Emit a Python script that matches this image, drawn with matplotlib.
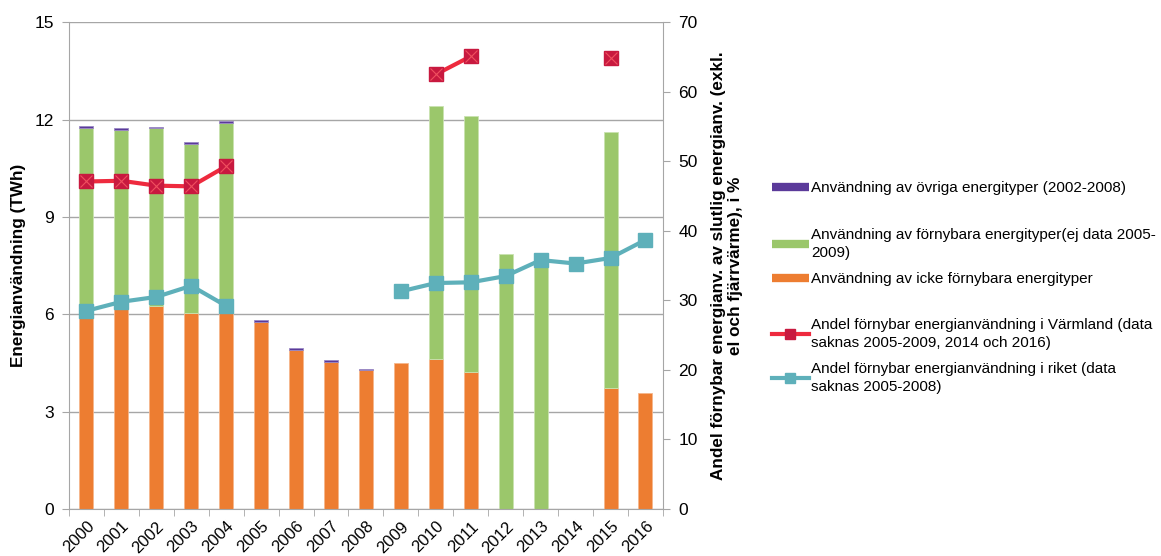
import numpy as np
import matplotlib
matplotlib.use("Agg")
import matplotlib.pyplot as plt
from matplotlib.lines import Line2D

plt.rcParams['font.family'] = ['Liberation Sans', 'DejaVu Sans']

years = ['2000', '2001', '2002', '2003', '2004', '2005', '2006', '2007', '2008',
         '2009', '2010', '2011', '2012', '2013', '2014', '2015', '2016']
nan = np.nan
# TWh
icke_fornybar = [5.90, 6.15, 6.26, 6.03, 6.03, 5.77, 4.90, 4.54, 4.27,
                 4.49, 4.63, 4.21, 0.0, 0.0, 0.0, 3.73, 3.57]
fornybar = [5.83, 5.54, 5.47, 5.23, 5.87, 0.0, 0.0, 0.0, 0.0,
            0.0, 7.78, 7.91, 7.87, 7.60, 0.0, 7.88, 0.0]
ovriga = [0.06, 0.05, 0.05, 0.05, 0.06, 0.05, 0.05, 0.05, 0.05,
          0.0, 0.0, 0.0, 0.0, 0.0, 0.0, 0.0, 0.0]
# %
varmland = [47.1, 47.2, 46.5, 46.4, 49.3, nan, nan, nan, nan,
            nan, 62.5, 65.1, nan, nan, nan, 64.8, nan]
riket = [28.5, 29.8, 30.5, 32.1, 29.2, nan, nan, nan, nan,
         31.3, 32.5, 32.6, 33.5, 35.8, 35.3, 36.1, 38.7]

lbl_ovriga = 'Användning av övriga energityper (2002-2008)'
lbl_fornybar = 'Användning av förnybara energityper(ej data 2005-\n2009)'
lbl_icke = 'Användning av icke förnybara energityper'
lbl_varm = 'Andel förnybar energianvändning i Värmland (data\nsaknas 2005-2009, 2014 och 2016)'
lbl_riket = 'Andel förnybar energianvändning i riket (data\nsaknas 2005-2008)'

c_orange = '#ED7D31'
c_green = '#9BC76B'
c_purple = '#5B3A9A'
c_red = '#EE2A3E'
c_redm = '#C8193F'
c_teal = '#5EB0BA'
c_grid = '#A6A6A6'

fig = plt.figure(figsize=(11.61, 5.56), dpi=100)
ax = fig.add_axes([0.0594, 0.0845, 0.5116, 0.8755])
x = np.arange(len(years))
w = 0.4
icke = np.array(icke_fornybar)
forn = np.array(fornybar)
ovr = np.array(ovriga)
m1, m2, m3 = icke > 0, forn > 0, ovr > 0
ax.bar(x[m1], icke[m1], w, color=c_orange, edgecolor='#F6B68C', linewidth=0.6, zorder=2)
ax.bar(x[m2], forn[m2], w, bottom=icke[m2], color=c_green, edgecolor='#C9E2B0', linewidth=0.6, zorder=2)
ax.bar(x[m3], ovr[m3], w, bottom=(icke + forn)[m3], color=c_purple, edgecolor='#9A88C4', linewidth=0.6, zorder=2)

ax.set_xlim(-0.5, len(years) - 0.5)
ax.set_ylim(0, 15)
ax.set_yticks([0, 3, 6, 9, 12, 15])
ax.grid(axis='y', color=c_grid, linewidth=1.0, zorder=0)
ax.set_axisbelow(True)
ax.set_xticks(x)
ax.set_xticklabels(years, rotation=45, ha='right', rotation_mode='anchor', fontsize=12)
ax.set_xticks(np.arange(-0.5, len(years), 1), minor=True)
ax.tick_params(axis='x', which='major', length=0, pad=7)
ax.tick_params(axis='x', which='minor', length=5, color=c_grid, direction='out')
ax.tick_params(axis='y', labelsize=12.5, length=5, color=c_grid, pad=6)
for s in ['top', 'right']:
    ax.spines[s].set_visible(False)
for s in ['left', 'bottom']:
    ax.spines[s].set_color(c_grid)
ax.set_ylabel('Energianvändning (TWh)', fontsize=12.3, fontweight='bold', labelpad=6)

ax2 = ax.twinx()
ax2.set_ylim(0, 70)
ax2.set_yticks(np.arange(0, 71, 10))
ax2.plot(x, varmland, color=c_red, lw=3, marker='s', ms=10, mfc=c_redm, mec=c_redm, zorder=3)
ax2.plot(x, varmland, lw=0, marker='x', ms=8, mec='#F0505F', mew=0.8, zorder=4)
ax2.plot(x, riket, color=c_teal, lw=3, marker='s', ms=10, mfc=c_teal, mec=c_teal, zorder=3)
for s in ['top', 'left', 'bottom']:
    ax2.spines[s].set_visible(False)
ax2.spines['right'].set_color(c_grid)
ax2.tick_params(axis='y', labelsize=12.5, length=5, color=c_grid, pad=6)
yl = ax2.set_ylabel('Andel förnybar energianv. av slutlig energianv. (exkl.\nel och fjärrvärme), i %',
                    fontsize=12.3, fontweight='bold', labelpad=10)
yl.set_linespacing(1.15)

handles = [
    Line2D([], [], color=c_purple, lw=6, solid_capstyle='butt'),
    Line2D([], [], color=c_green, lw=6, solid_capstyle='butt'),
    Line2D([], [], color=c_orange, lw=6, solid_capstyle='butt'),
    Line2D([], [], color=c_red, lw=3, marker='s', ms=7, mfc=c_redm, mec=c_redm),
    Line2D([], [], color=c_teal, lw=3, marker='s', ms=7, mfc=c_teal, mec=c_teal),
]
labels = [lbl_ovriga, lbl_fornybar, lbl_icke, lbl_varm, lbl_riket]
centers_px = [188, 244, 279, 334, 378]
for h, l, cy in zip(handles, labels, centers_px):
    leg = fig.legend([h], [l], loc='center left', bbox_to_anchor=(772 / 1161, 1 - cy / 556),
                     frameon=False, fontsize=11, handlelength=2.4, handletextpad=0.15,
                     borderpad=0, borderaxespad=0)
    for t in leg.get_texts():
        t.set_linespacing(1.35)

fig.savefig('out.png', dpi=100)
